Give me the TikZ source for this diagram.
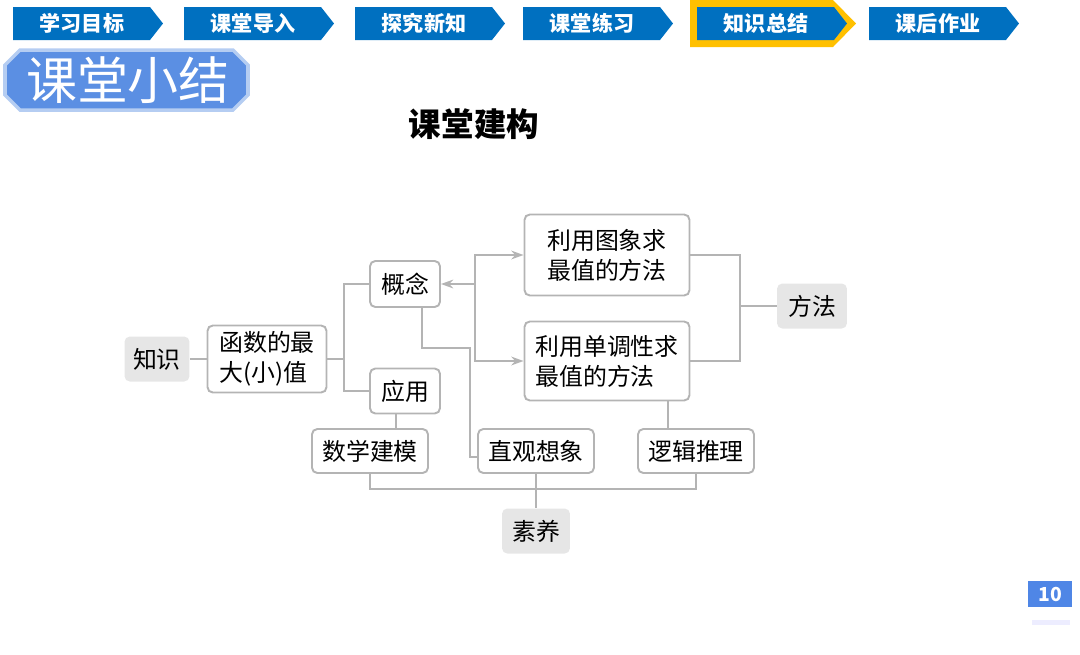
\documentclass[tikz,border=0pt]{standalone}
\usepackage{fontspec}
\setmainfont{Noto Sans CJK SC}
\usetikzlibrary{calc,arrows.meta,positioning}
\definecolor{navblue}{HTML}{0070C0}
\definecolor{navgold}{HTML}{FFC000}
\definecolor{badgeblue}{HTML}{5B8FE3}
\definecolor{pageblue}{HTML}{4F86E6}
\definecolor{linegray}{HTML}{B4B4B4}
\definecolor{taggray}{HTML}{E6E6E6}

\begin{document}
\begin{tikzpicture}[
    x=0.02cm, y=-0.02cm,
    >={Stealth[length=7pt,width=5pt]},
    font=\fontsize{13.6}{17}\selectfont,
    box/.style={
        draw=linegray,
        line width=1.1pt,
        rounded corners=3pt,
        fill=white,
        align=left,
        inner sep=2pt
    },
    tag/.style={
        fill=taggray,
        rounded corners=3pt,
        minimum width=1.36cm,
        minimum height=0.9cm
    },
    link/.style={draw=linegray, line width=1.1pt},
    tabtext/.style={text=white, font=\fontsize{12}{12}\selectfont\bfseries}
]
\useasboundingbox (0,0) rectangle (1080,654);

% top bar
\fill[navgold] (690,0) -- (833,0) -- (856,23.5) -- (833,47) -- (690,47) -- cycle;
\foreach \x/\t [count=\i] in {13/学习目标,184/课堂导入,355/探究新知,523/课堂练习,697/知识总结,869/课后作业} {
    \fill[navblue] (\x,7) -- ++(137,0) -- ++(13,16.5) -- ++(-13,16.5) -- ++(-137,0) -- cycle;
    \node[tabtext] (tab\i) at (\x+69,23.5) {\t};
}

% title
\fill[badgeblue, draw=badgeblue!45, line width=2pt]
    (5,65) -- (20,50) -- (233,50) -- (248,65) -- (248,95) -- (233,110) -- (20,110) -- (5,95) -- cycle;
\node[text=white, font=\fontsize{29}{29}\selectfont] (title) at (128,80) {课堂小结};
\node[font=\fontsize{18.5}{18.5}\selectfont\bfseries] (sub) at (474,124) {课堂建构};

% nodes
\node[tag, minimum width=1.3cm] (zhishi) at (157,359) {知识};
\node[box, minimum width=2.38cm, minimum height=1.34cm] (hanshu) at (267,359) {函数的最\\大(小)值};
\node[box, minimum width=1.4cm, minimum height=0.92cm] (gainian) at (405,284) {概念};
\node[box, minimum width=1.4cm, minimum height=0.9cm] (yingyong) at (405,391) {应用};
\node[box, minimum width=3.3cm, minimum height=1.62cm] (tuxiang) at (607,255) {利用图象求\\最值的方法};
\node[box, minimum width=3.3cm, minimum height=1.58cm] (dandiao) at (607,361) {利用单调性求\\最值的方法};
\node[tag, minimum width=1.4cm] (fangfa) at (812,306) {方法};
\node[box, minimum width=2.32cm, minimum height=0.88cm] (shuxue) at (370,451) {数学建模};
\node[box, minimum width=2.32cm, minimum height=0.88cm] (zhiguan) at (536,451) {直观想象};
\node[box, minimum width=2.32cm, minimum height=0.88cm] (luoji) at (696,451) {逻辑推理};
\node[tag] (suyang) at (536,531) {素养};

\coordinate (lb) at (344,359);
\coordinate (ab) at (475,284);
\coordinate (rb) at (740,306);
\coordinate (zg) at (470,348);
\coordinate (sb) at (536,489);

% connectors
\draw[link] (zhishi) -- (hanshu);
\draw[link] (hanshu.east) -- (lb);
\draw[link] (gainian.west) -| (lb) |- (yingyong.west);
\draw[link, ->] (ab) -- (gainian.east);
\draw[link, ->] (ab) |- (tuxiang.west);
\draw[link, ->] (ab) |- (dandiao.west);
\draw[link] (tuxiang.east) -| (rb) |- (dandiao.east);
\draw[link] (rb) -- (fangfa.west);
\draw[link] ($(gainian.south)+(17,0)$) |- (zg) |- ($(zhiguan.west)+(0,6)$);
\draw[link] ($(yingyong.south)+(-9,0)$) -- ++(0,15);
\draw[link] ($(dandiao.south)+(61,0)$) -- ++(0,28);
\draw[link] (shuxue.south) |- (sb) -| (luoji.south);
\draw[link] (zhiguan.south) -- (suyang.north);

% page number
\node[fill=pageblue, text=white, font=\fontsize{11}{11}\selectfont\bfseries,
    minimum width=0.88cm, minimum height=0.5cm] (page) at (1050,594) {10};
\fill[blue!7] (1032,620) rectangle (1070,625);
\end{tikzpicture}
\end{document}
